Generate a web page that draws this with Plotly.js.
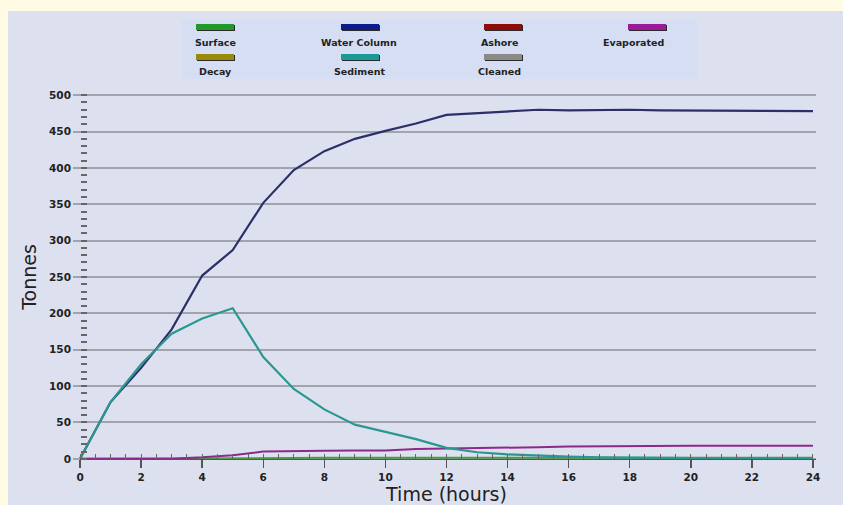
<!DOCTYPE html>
<html>
<head>
<meta charset="utf-8">
<script src="https://cdn.plot.ly/plotly-3.0.1.min.js"></script>
<style>html,body{margin:0;padding:0;background:#fffbe5;}#chart{width:843px;height:505px;}</style>
</head>
<body>
<div id="chart"></div>
<script>
// ---- data ----
var hours = [0,1,2,3,4,5,6,7,8,9,10,11,12,13,14,15,16,17,18,19,20,21,22,23,24];
var surface = [0,0,0,0,0.5,1,1,1,1.5,1.5,1.5,1.5,1.5,1.5,1.5,1.5,1.5,1.5,1.5,1.5,1.5,1.5,1.5,1.5,1.5];
var waterColumn = [0,78,125,178,252,287,352,397,423,440,451,461,473,475,478,480,479,480,480,479,479,479,479,479,478];
var evaporated = [0,0,0,0,2,5,10,11,11,11.5,11.5,13.5,14,14.5,15,16,17,17.5,18,18,18,18,18,18,18];
var sediment = [0,78,130,172,193,207,140,96,68,47,37,27,15,9,6,4,3,2,1.5,1,1,1,1,1,1];
var legendNames = ['Surface','Water Column','Ashore','Evaporated','Decay','Sediment','Cleaned'];
var legendColors = ['#1f9a2a','#0d1a8a','#8f0a0a','#9a1a9a','#9a8a0a','#1a9a96','#8a8a8a'];
var xTickVals = [0,2,4,6,8,10,12,14,16,18,20,22,24];
var yTickVals = [0,50,100,150,200,250,300,350,400,450,500];

// ---- geometry helpers ----
var W = 843, H = 505, L = 77, R = 27, T = 93, B = 44;
var pw = W - L - R, ph = H - T - B;
function px(x){ return (x - L) / pw; }
function py(y){ return (H - B - y) / ph; }

var shapes = [];
var annotations = [];
// yellow frame strips
shapes.push({type:'rect', xref:'paper', yref:'paper', layer:'below', x0:px(0), x1:px(W), y0:py(0), y1:py(11), fillcolor:'#fffbe5', line:{width:0}});
shapes.push({type:'rect', xref:'paper', yref:'paper', layer:'below', x0:px(0), x1:px(8), y0:py(0), y1:py(H), fillcolor:'#fffbe5', line:{width:0}});
// legend box
shapes.push({type:'rect', xref:'paper', yref:'paper', layer:'below', x0:px(182), x1:px(697), y0:py(20), y1:py(79), fillcolor:'#d6def4', line:{width:0}});
var colX = [215, 360, 503, 647];
var textX = [215, 359, 499, 633];
var rowSw = [27, 57], rowTx = [43, 71];
var legFont = {family:'DejaVu Sans, Verdana, sans-serif', size:9.5, color:'#222', weight:'bold'};
legendNames.forEach(function(n, i){
  var c = i % 4, r = Math.floor(i / 4);
  var cx = colX[c], cy = rowSw[r];
  shapes.push({type:'rect', xref:'paper', yref:'paper', layer:'below', x0:px(cx-18), x1:px(cx+20), y0:py(cy-2), y1:py(cy+4), fillcolor:'#2a2a2a', line:{width:0}});
  shapes.push({type:'rect', xref:'paper', yref:'paper', layer:'below', x0:px(cx-19), x1:px(cx+19), y0:py(cy-3), y1:py(cy+3), fillcolor:legendColors[i], line:{width:0}});
  annotations.push({xref:'paper', yref:'paper', x:px(textX[c]), y:py(rowTx[r]), text:n, showarrow:false, xanchor:'center', yanchor:'middle', font:legFont});
});

var traces = [
  {name:'Surface', x:hours, y:surface, mode:'lines', line:{color:'#4a9a4a', width:2}},
  {name:'Water Column', x:hours, y:waterColumn, mode:'lines', line:{color:'#2c2f68', width:2.2}},
  {name:'Evaporated', x:hours, y:evaporated, mode:'lines', line:{color:'#8c2a8c', width:2}},
  {name:'Sediment', x:hours, y:sediment, mode:'lines', line:{color:'#2a9890', width:2.2}}
];

var tickFont = {family:'DejaVu Sans, Verdana, sans-serif', size:10.5, color:'#222', weight:'bold'};
var titleFont = {family:'DejaVu Sans, Verdana, sans-serif', size:19, color:'#222'};
var layout = {
  width: W, height: H,
  margin: {l:L, r:R, t:T, b:B, pad:0},
  paper_bgcolor: '#dde1ef',
  plot_bgcolor: '#dde1ef',
  showlegend: false,
  shapes: shapes,
  annotations: annotations,
  xaxis: {
    range: [-0.1, 24.1], anchor:'free', position: 3/506,
    tickvals: xTickVals, ticktext: xTickVals.map(String),
    ticks:'outside', ticklen:8, tickwidth:1.5, tickcolor:'#555',
    minor:{dtick:0.5, ticks:'inside', ticklen:5, tickwidth:1, tickcolor:'#666', showgrid:false},
    showline:true, linecolor:'#555', linewidth:1.5,
    showgrid:false, zeroline:false,
    tickfont: tickFont,
    title:{text:'Time (hours)', font:titleFont, standoff:1}
  },
  yaxis: {
    range: [-3, 503], anchor:'free', position: 0.1/24.2,
    tickvals: yTickVals, ticktext: yTickVals.map(String),
    ticks:'outside', ticklen:7, tickwidth:2, tickcolor:'#a2a3ad',
    minor:{dtick:10, ticks:'inside', ticklen:6, tickwidth:2, tickcolor:'#666', showgrid:false},
    showgrid:true, gridcolor:'#a2a3ad', gridwidth:2,
    zeroline:false, showline:false,
    tickfont: tickFont,
    title:{text:'Tonnes', font:titleFont, standoff:6}
  }
};
Plotly.newPlot('chart', traces, layout, {staticPlot:true, displayModeBar:false});
</script>
</body>
</html>
